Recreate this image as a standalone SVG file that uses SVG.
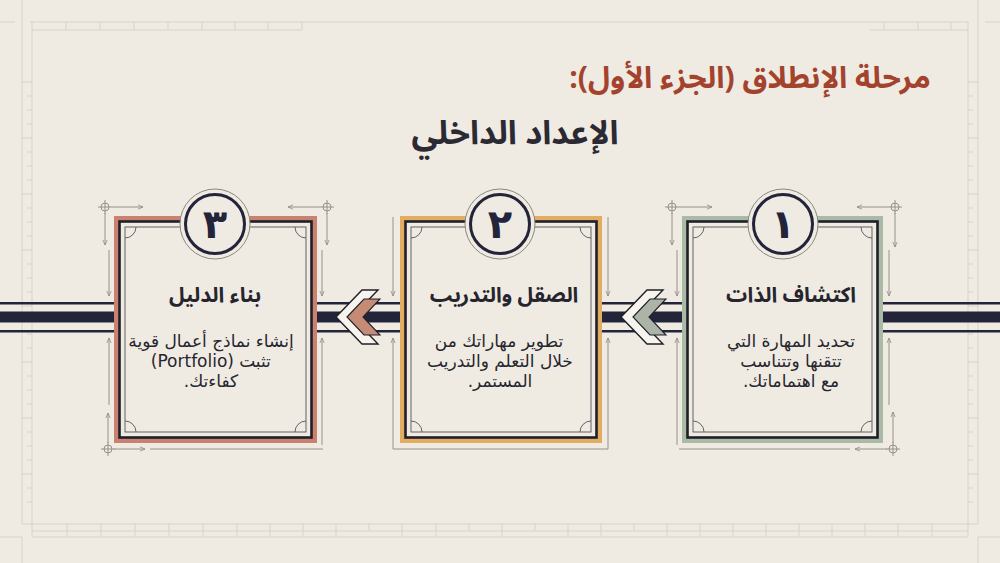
<svg xmlns="http://www.w3.org/2000/svg" width="1000" height="563" viewBox="0 0 1000 563">
<defs>
<style>
.fr{fill:none;stroke:#d9d3c6;stroke-width:1}
.dl{fill:none;stroke:#8c8880;stroke-width:0.9}
.ch{fill:none;stroke:#8c8880;stroke-width:0.9}
.ar{fill:none;stroke:#8c8880;stroke-width:0.9;marker-end:url(#ah)}
.blk{fill:#efebe2;stroke:#1f1f2a;stroke-width:2.6}
.thin{fill:none;stroke:#55545a;stroke-width:0.9}
.ring{fill:#efebe2;stroke:#8a8780;stroke-width:1}
.num{fill:#efebe2;stroke:#23233a;stroke-width:3}
text{font-family:"Noto Sans Arabic","DejaVu Sans",sans-serif;text-anchor:middle}
.t1{font-size:30px;font-weight:bold;fill:#a4432d}
.t2{font-size:33px;font-weight:bold;fill:#2b2a33}
.h{font-size:21px;font-weight:bold;fill:#26252e}
.b{font-family:"DejaVu Sans",sans-serif;font-size:17px;fill:#26252e}
.n{font-family:"DejaVu Sans",sans-serif;font-size:40px;font-weight:bold;fill:#23233a}
.nv{fill:#23233a}
</style>
<marker id="ah" viewBox="0 0 8 8" refX="7" refY="4" markerWidth="6" markerHeight="6" orient="auto" markerUnits="userSpaceOnUse">
<path d="M0,1 L7,4 L0,7" fill="none" stroke="#8c8880" stroke-width="1"/>
</marker>
<g id="cross">
<circle cx="0" cy="0" r="4" class="ch"/>
<path d="M-7,0 H7 M0,-7 V7" class="ch"/>
</g>
</defs>
<rect width="1000" height="563" fill="#efebe2"/>

<g id="frame">
<path class="fr" d="M22,0 V524 M978,0 V524 M0,22 H15 M30,22 H968 M985,22 H1000 M32,22 V537 M968,22 V537 M22,524 H978 M32,537 H968 M0,537 H22 V563 M1000,537 H978 V563"/>
<path class="fr" d="M32,30 H302 M66,22 V30 M100,22 V30 M134,22 V30 M168,22 V30 M202,22 V30 M235,22 V30 M268,22 V30 M302,22 V30 M870,30 H968 M884,22 V30 M918,22 V30 M951,22 V30"/>
<path class="fr" d="M22,82 H32 M968,82 H978 M32,531 H968"/>
<path class="fr" d="M67,524 V537 M101,524 V537 M135,524 V537 M169,524 V537 M203,524 V537 M237,524 V537 M270,524 V537 M303,524 V537 M336,524 V537 M369,524 V531 M402,524 V537 M436,524 V537 M469,524 V531 M502,524 V537 M535,524 V531 M568,524 V537 M601,524 V537 M634,524 V531 M667,524 V537 M700,524 V537 M733,524 V537 M766,524 V537 M799,524 V537 M832,524 V537 M865,524 V537 M898,524 V537 M932,524 V537"/>
<path class="fr" d="M27,96 H32 M27,110 H32 M27,124 H32 M22,138 H32 M27,152 H32 M27,166 H32 M27,180 H32 M22,194 H32 M27,208 H32 M27,222 H32 M27,236 H32 M22,250 H32 M27,264 H32 M27,278 H32 M27,292 H32 M22,306 H32 M27,320 H32 M27,334 H32 M27,348 H32 M22,362 H32 M27,376 H32 M27,390 H32 M27,404 H32 M22,418 H32 M27,432 H32 M27,446 H32 M27,460 H32 M22,474 H32 M27,488 H32 M27,502 H32"/>
<path class="fr" d="M968,96 H973 M968,110 H973 M968,124 H973 M968,138 H978 M968,152 H973 M968,166 H973 M968,180 H973 M968,194 H978 M968,208 H973 M968,222 H973 M968,236 H973 M968,250 H978 M968,264 H973 M968,278 H973 M968,292 H973 M968,306 H978 M968,320 H973 M968,334 H973 M968,348 H973 M968,362 H978 M968,376 H973 M968,390 H973 M968,404 H973 M968,418 H978 M968,432 H973 M968,446 H973 M968,460 H973 M968,474 H978 M968,488 H973 M968,502 H973"/>
</g>

<g id="title">
<text class="t1" x="750" y="88" direction="rtl">مرحلة الإنطلاق (الجزء الأول):</text>
<text class="t2" x="515" y="144" direction="rtl">الإعداد الداخلي</text>
</g>

<g id="decor">
<use href="#cross" x="105" y="207"/>
<use href="#cross" x="327" y="207"/>
<use href="#cross" x="108" y="449"/>
<path class="ar" d="M112,207 H143"/>
<path class="ar" d="M105,213 V245"/>
<path class="ar" d="M320,207 H288"/>
<path class="ar" d="M327,213 V245"/>
<path class="ar" d="M109,250 V296"/>
<path class="ar" d="M322,250 V296"/>
<path class="ar" d="M109,405 V338"/>
<path class="ar" d="M322,445 V338"/>
<path class="ar" d="M108,443 V413"/>
<path class="ar" d="M114,449 H145"/>
<path class="dl" d="M150,449 H323"/>

<path class="ar" d="M393,217 V296"/>
<path class="ar" d="M608,217 V296"/>
<path class="ar" d="M393,449 V338"/>
<path class="ar" d="M608,449 V338"/>
<path class="dl" d="M393,449 H608"/>

<use href="#cross" x="672" y="207"/>
<use href="#cross" x="895" y="207"/>
<use href="#cross" x="893" y="449"/>
<path class="ar" d="M679,207 H712"/>
<path class="ar" d="M672,213 V245"/>
<path class="ar" d="M888,207 H857"/>
<path class="ar" d="M895,213 V247"/>
<path class="ar" d="M677,250 V296"/>
<path class="ar" d="M889,250 V296"/>
<path class="ar" d="M677,445 V338"/>
<path class="ar" d="M889,405 V338"/>
<path class="ar" d="M893,443 V412"/>
<path class="ar" d="M887,449 H855"/>
<path class="dl" d="M850,449 H679"/>
</g>

<g id="connectors">
<rect x="0" y="302" width="1000" height="2.5" class="nv"/>
<rect x="0" y="311.5" width="1000" height="11" class="nv"/>
<rect x="0" y="330" width="1000" height="2.5" class="nv"/>
<polygon points="336,317 362,290 378,290 352,317 378,344 362,344" fill="#f7f4ee" stroke="#1f1f2a" stroke-width="1.4"/>
<polygon points="347,317 364,299 380,299 363,317 380,335 364,335" fill="#c68b75" stroke="#1f1f2a" stroke-width="1.1"/>
<polygon points="621,317 647,290 663,290 637,317 663,344 647,344" fill="#f7f4ee" stroke="#1f1f2a" stroke-width="1.4"/>
<polygon points="633,317 650,299 666,299 649,317 666,335 650,335" fill="#abb4a6" stroke="#1f1f2a" stroke-width="1.1"/>
</g>

<g id="card3">
<rect x="114" y="216" width="203" height="227" fill="#c98270"/>
<rect x="119.5" y="221.5" width="192" height="216" class="blk"/>
<rect x="125" y="227" width="181" height="205" class="thin"/>
<path class="thin" d="M125,238 A11,11 0 0 0 136,227 M295,227 A11,11 0 0 0 306,238 M306,421 A11,11 0 0 0 295,432 M136,432 A11,11 0 0 0 125,421"/>
<circle cx="215" cy="224" r="35" class="ring"/>
<circle cx="215" cy="224" r="29.5" class="num"/>
<text class="n" x="215" y="238">٣</text>
<text class="h" x="215" y="302" direction="rtl">بناء الدليل</text>
<text class="b" x="211" y="347" direction="rtl">إنشاء نماذج أعمال قوية</text>
<text class="b" x="234" y="367" style="text-anchor:end" direction="ltr">(Portfolio)</text>
<text class="b" x="255" y="367" direction="rtl">تثبت</text>
<text class="b" x="211" y="387" direction="rtl">كفاءتك.</text>
</g>

<g id="card2">
<rect x="400" y="216" width="202" height="227" fill="#e2ad63"/>
<rect x="405.5" y="221.5" width="191" height="216" class="blk"/>
<rect x="411" y="227" width="180" height="205" class="thin"/>
<path class="thin" d="M411,238 A11,11 0 0 0 422,227 M580,227 A11,11 0 0 0 591,238 M591,421 A11,11 0 0 0 580,432 M422,432 A11,11 0 0 0 411,421"/>
<circle cx="500" cy="224" r="35" class="ring"/>
<circle cx="500" cy="224" r="29.5" class="num"/>
<text class="n" x="500" y="238">٢</text>
<text class="h" x="504" y="302" direction="rtl">الصقل والتدريب</text>
<text class="b" x="499" y="347" direction="rtl">تطوير مهاراتك من</text>
<text class="b" x="500" y="367" direction="rtl">خلال التعلم والتدريب</text>
<text class="b" x="500" y="387" direction="rtl">المستمر.</text>
</g>

<g id="card1">
<rect x="682" y="216" width="201" height="227" fill="#a9baa5"/>
<rect x="687.5" y="221.5" width="190" height="216" class="blk"/>
<rect x="693" y="227" width="179" height="205" class="thin"/>
<path class="thin" d="M693,238 A11,11 0 0 0 704,227 M861,227 A11,11 0 0 0 872,238 M872,421 A11,11 0 0 0 861,432 M704,432 A11,11 0 0 0 693,421"/>
<circle cx="783" cy="224" r="35" class="ring"/>
<circle cx="783" cy="224" r="29.5" class="num"/>
<text class="n" x="783" y="238">١</text>
<text class="h" x="791" y="302" direction="rtl">اكتشاف الذات</text>
<text class="b" x="791" y="347" direction="rtl">تحديد المهارة التي</text>
<text class="b" x="791" y="367" direction="rtl">تتقنها وتتناسب</text>
<text class="b" x="791" y="387" direction="rtl">مع اهتماماتك.</text>
</g>
</svg>
